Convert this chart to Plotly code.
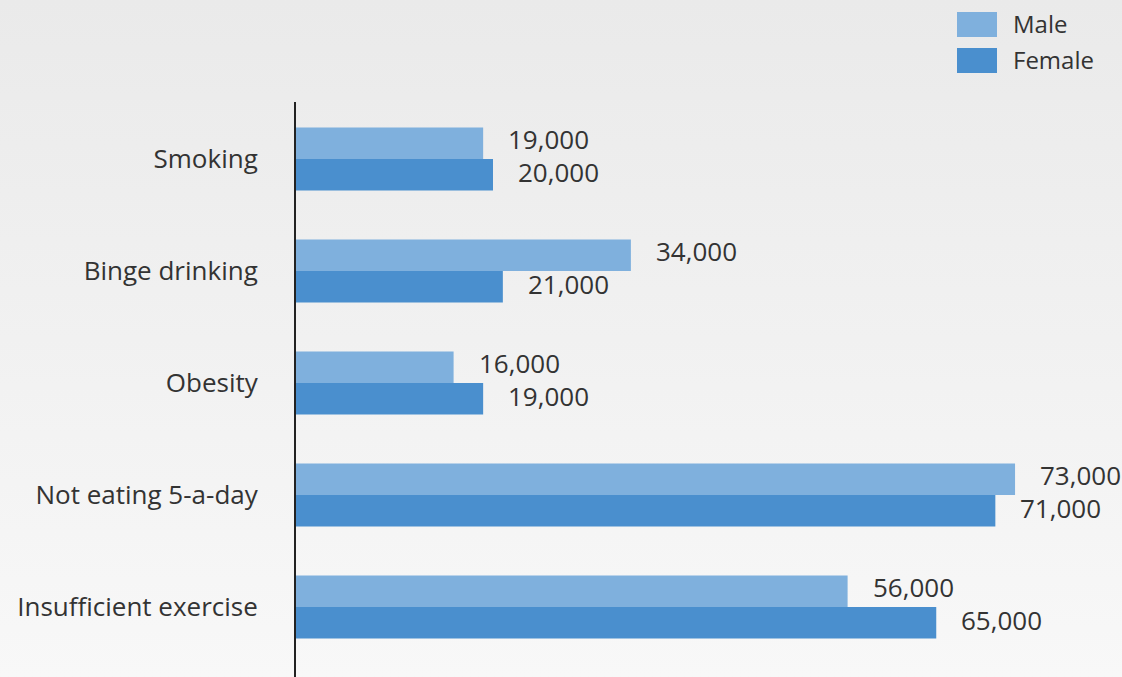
import plotly.graph_objects as go

# Lifestyle risk factors, counts by sex
categories = ["Smoking", "Binge drinking", "Obesity", "Not eating 5-a-day", "Insufficient exercise"]
male = [19000, 34000, 16000, 73000, 56000]
female = [20000, 21000, 19000, 71000, 65000]
series_names = ["Male", "Female"]
colors = ["#7fb0dd", "#4a8fce"]

FONT = "Open Sans"
TEXT_COLOR = "#333333"

fig = go.Figure()
for name, vals, col in zip(series_names, [male, female], colors):
    fig.add_trace(go.Bar(
        name=name, y=categories, x=vals, orientation="h",
        marker=dict(color=col, line=dict(width=0)),
        showlegend=False, hoverinfo="skip",
    ))

# Value labels to the right of each bar
annotations = []
for vals, yshift in [(male, 20), (female, -13)]:
    for cat, v in zip(categories, vals):
        annotations.append(dict(
            x=v, y=cat, xref="x", yref="y", text=f"{v:,}",
            showarrow=False, xanchor="left", yanchor="middle",
            xshift=23, yshift=yshift,
            font=dict(family=FONT, size=26, color=TEXT_COLOR),
        ))

# Legend drawn as swatches + labels in the top-right corner
shapes = []
legend_top = [12, 48]
for name, col, top in zip(series_names, colors, legend_top):
    shapes.append(dict(
        type="rect", xref="paper", yref="paper",
        x0=(957 - 296) / 826, x1=(997 - 296) / 826,
        y0=1 + (102 - top - 25) / 575, y1=1 + (102 - top) / 575,
        fillcolor=col, line=dict(width=0), layer="above",
    ))
    annotations.append(dict(
        x=(1011 - 296) / 826, y=1 + (102 - top - 11.5) / 575,
        xref="paper", yref="paper", text=name, showarrow=False,
        xanchor="left", yanchor="middle",
        font=dict(family=FONT, size=24, color=TEXT_COLOR),
    ))

# Soft vertical gradient for the page background
bg_svg = (
    "data:image/svg+xml;utf8,"
    "<svg xmlns='http://www.w3.org/2000/svg' width='10' height='100' preserveAspectRatio='none'>"
    "<defs><linearGradient id='g' x1='0' y1='0' x2='0' y2='1'>"
    "<stop offset='0' stop-color='%23eaeaea'/><stop offset='1' stop-color='%23f8f8f8'/>"
    "</linearGradient></defs><rect width='10' height='100' fill='url(%23g)'/></svg>"
)

fig.update_layout(
    width=1122, height=677,
    margin=dict(l=296, r=0, t=102, b=0),
    paper_bgcolor="rgba(0,0,0,0)",
    plot_bgcolor="rgba(0,0,0,0)",
    barmode="group", bargap=0.4375, bargroupgap=0,
    font=dict(family=FONT, size=24, color=TEXT_COLOR),
    xaxis=dict(range=[0, 83858], showgrid=False, zeroline=False,
               showticklabels=False, ticks="", fixedrange=True),
    yaxis=dict(categoryorder="array", categoryarray=categories,
               range=[4.625, -0.509], showgrid=False, zeroline=False,
               showline=True, linecolor="#222222", linewidth=2,
               ticks="", ticklabelstandoff=31,
               tickfont=dict(family=FONT, size=26, color=TEXT_COLOR)),
    annotations=annotations,
    shapes=shapes,
    images=[dict(source=bg_svg, xref="paper", yref="paper",
                 x=-296 / 826, y=1 + 102 / 575, sizex=1122 / 826, sizey=677 / 575,
                 xanchor="left", yanchor="top", sizing="stretch", layer="below")],
)

fig.write_html("out.html")
